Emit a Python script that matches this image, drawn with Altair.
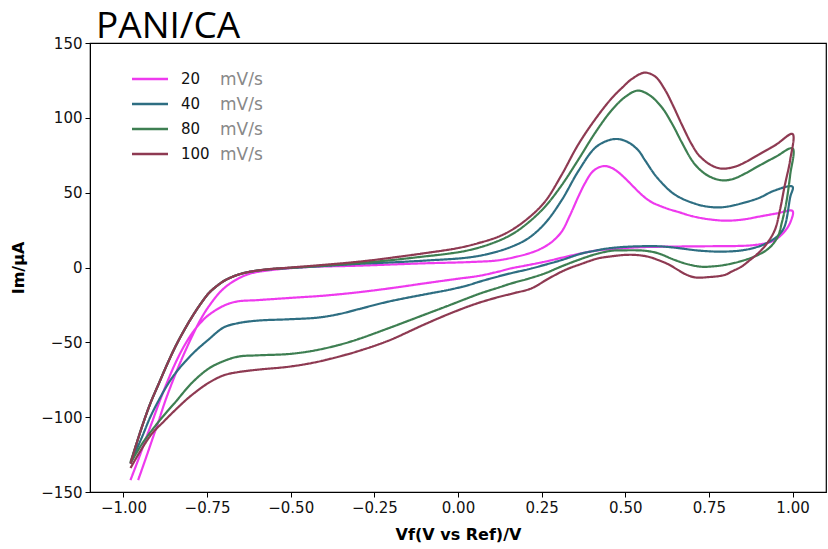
import altair as alt
import pandas as pd

RATES = ["20", "40", "80", "100"]
UNITS = ["20 mV/s", "40 mV/s", "80 mV/s", "100 mV/s"]
COLORS = ["#EE3AEE", "#2E6E82", "#3E7F52", "#8E3A52"]
X_TICKS = [-1.0, -0.75, -0.5, -0.25, 0.0, 0.25, 0.5, 0.75, 1.0]
Y_TICKS = [-150, -100, -50, 0, 50, 100, 150]

# (potential V, current uA) pairs, forward scan then reverse scan
CV_20 = [
    (-0.956, -142), (-0.934, -128), (-0.914, -115), (-0.894, -102), (-0.874, -88.5),
    (-0.835, -66), (-0.795, -46), (-0.77, -35), (-0.745, -26), (-0.705, -15),
    (-0.665, -8.4), (-0.62, -4), (-0.55, -1.5), (-0.45, 0.3), (-0.3, 1.2),
    (-0.1, 2.8), (0.03, 3.6), (0.12, 4.8), (0.18, 7.5), (0.22, 10), (0.25, 12.8),
    (0.28, 17), (0.31, 24), (0.335, 35), (0.36, 47.5), (0.38, 56.5), (0.4, 63.5),
    (0.42, 66.8), (0.44, 67.8), (0.46, 66.5), (0.48, 63.5), (0.5, 59.5), (0.52, 55),
    (0.54, 50.5), (0.56, 46.5), (0.58, 43.5), (0.6, 41.5), (0.63, 39), (0.66, 37),
    (0.7, 34.3), (0.75, 32.2), (0.8, 31.3), (0.85, 32), (0.9, 34), (0.95, 36), (1.0, 37.7),
    (0.993, 30), (0.976, 24), (0.955, 19.5), (0.936, 17.2), (0.91, 15.8),
    (0.877, 14.8), (0.82, 14.3), (0.75, 14.2), (0.65, 14), (0.55, 13.6), (0.5, 13),
    (0.42, 11.5), (0.37, 9.5), (0.31, 6.5), (0.26, 3.9), (0.2, 1.2), (0.16, -0.5),
    (0.12, -2.8), (0.06, -5.7), (0.0, -7.5), (-0.1, -10.6), (-0.2, -13.8),
    (-0.3, -16.6), (-0.4, -18.8), (-0.5, -20.3), (-0.6, -21.8), (-0.66, -22.7),
    (-0.7, -25.5), (-0.745, -31.7), (-0.77, -37), (-0.795, -44), (-0.82, -53),
    (-0.845, -64), (-0.87, -77), (-0.894, -90.7), (-0.914, -103), (-0.934, -115),
    (-0.955, -128), (-0.979, -142),
]

CV_40 = [
    (-0.979, -131), (-0.96, -117), (-0.944, -106), (-0.92, -91), (-0.894, -77.4),
    (-0.87, -65), (-0.845, -53), (-0.82, -42.5), (-0.795, -33), (-0.77, -24.5),
    (-0.745, -17.2), (-0.72, -12.2), (-0.695, -8.4), (-0.66, -5), (-0.626, -3),
    (-0.57, -1.3), (-0.5, -0.3), (-0.4, 1), (-0.3, 2.4), (-0.2, 3.4), (-0.1, 4.6),
    (0.031, 6.7), (0.1, 9.6), (0.16, 13.9), (0.21, 19.5), (0.26, 29.5), (0.31, 45),
    (0.36, 64.5), (0.41, 80), (0.45, 85), (0.479, 85.8), (0.51, 83.5), (0.54, 78),
    (0.558, 72), (0.59, 61.5), (0.618, 54.5), (0.64, 50), (0.668, 46.2), (0.7, 43.3),
    (0.73, 41.3), (0.767, 40.2), (0.8, 40.5), (0.85, 43), (0.9, 46.5), (0.947, 51.5),
    (1.0, 54),
    (0.993, 47), (0.976, 27.3), (0.96, 22), (0.947, 19.5), (0.92, 16), (0.897, 13.9),
    (0.85, 11.5), (0.787, 10.6), (0.72, 11.3), (0.65, 13.2), (0.598, 14.2),
    (0.509, 13.9), (0.45, 12.8), (0.409, 11.2), (0.369, 9.3), (0.31, 5), (0.26, 1.8),
    (0.21, -1.2), (0.17, -3.2), (0.12, -6), (0.061, -9.7), (0.031, -11.8), (-0.029, -15),
    (-0.1, -18), (-0.208, -22.8), (-0.3, -28), (-0.357, -31.2), (-0.42, -33.5),
    (-0.506, -34.6), (-0.6, -35.5), (-0.66, -37.3), (-0.7, -40), (-0.745, -48),
    (-0.795, -58), (-0.845, -70.7), (-0.87, -79), (-0.894, -88.5), (-0.92, -100),
    (-0.944, -113), (-0.979, -130.8),
]

CV_80 = [
    (-0.979, -130), (-0.96, -117), (-0.944, -106), (-0.92, -91), (-0.894, -77.4),
    (-0.87, -65), (-0.845, -53), (-0.82, -42.5), (-0.795, -33), (-0.77, -24.5),
    (-0.745, -17.2), (-0.72, -12.2), (-0.695, -8.4), (-0.66, -5), (-0.626, -3),
    (-0.57, -1.3), (-0.5, -0.2), (-0.4, 1.3), (-0.3, 2.9), (-0.2, 4.9), (-0.108, 7.2),
    (-0.03, 9.2), (0.031, 11.5), (0.1, 16), (0.16, 22), (0.21, 30), (0.26, 40.6),
    (0.31, 55), (0.359, 71.8), (0.41, 90), (0.459, 105), (0.5, 114), (0.537, 118.2),
    (0.57, 115.5), (0.608, 107.4), (0.64, 96), (0.668, 84), (0.698, 72), (0.72, 66),
    (0.75, 61), (0.787, 58.3), (0.82, 59), (0.86, 63), (0.9, 68), (0.95, 74), (1.0, 79.6),
    (0.993, 62), (0.981, 43), (0.968, 30), (0.956, 20.6), (0.93, 13), (0.897, 8.4),
    (0.85, 4.5), (0.797, 1.7), (0.76, 0.7), (0.728, 0.5), (0.69, 2), (0.648, 5),
    (0.598, 9.5), (0.558, 11.2), (0.5, 11.5), (0.459, 11.2), (0.41, 8.8), (0.359, 5),
    (0.31, 0.8), (0.26, -3.9), (0.21, -7.5), (0.16, -10.6), (0.12, -13.5),
    (0.071, -17), (0.031, -20.3), (-0.029, -25.5), (-0.1, -31.5), (-0.208, -40.6),
    (-0.3, -48), (-0.357, -51.8), (-0.43, -55.5), (-0.506, -57.8), (-0.6, -58.7),
    (-0.656, -59.5), (-0.7, -62.5), (-0.745, -67.5), (-0.795, -77), (-0.845, -90),
    (-0.88, -99), (-0.914, -108.5), (-0.945, -118), (-0.979, -130.8),
]

CV_100 = [
    (-0.979, -131), (-0.96, -117), (-0.944, -106), (-0.92, -91), (-0.894, -77.4),
    (-0.87, -65), (-0.845, -53), (-0.82, -42.5), (-0.795, -33), (-0.77, -24.5),
    (-0.745, -17.2), (-0.72, -12.2), (-0.695, -8.4), (-0.66, -5), (-0.626, -3),
    (-0.57, -1.2), (-0.5, 0), (-0.4, 1.8), (-0.3, 3.8), (-0.2, 6.5), (-0.108, 9.3),
    (0.0, 13), (0.061, 16.3), (0.12, 20.5), (0.16, 25), (0.21, 33), (0.26, 44),
    (0.31, 62), (0.359, 82), (0.41, 99), (0.459, 113), (0.49, 120), (0.52, 126),
    (0.558, 130.2), (0.59, 127.5), (0.618, 119), (0.64, 109.5), (0.668, 96), (0.698, 82.5),
    (0.72, 75), (0.747, 69.7), (0.77, 67), (0.792, 66), (0.83, 67.5), (0.86, 70.5),
    (0.897, 75.2), (0.95, 82), (1.0, 89.2),
    (0.993, 72), (0.976, 54), (0.962, 38), (0.947, 25), (0.92, 15), (0.897, 9.5),
    (0.87, 4.5), (0.847, 0.5), (0.82, -2.5), (0.797, -5), (0.75, -6.4), (0.708, -6.6),
    (0.68, -4.5), (0.658, -1.7), (0.63, 2), (0.598, 5), (0.569, 7.2), (0.53, 8.4),
    (0.499, 8.4), (0.46, 7.5), (0.419, 6.1), (0.37, 2.5), (0.32, -1.7), (0.27, -7.5),
    (0.22, -13.9), (0.17, -17), (0.12, -19.8), (0.05, -24.5), (-0.029, -31.2),
    (-0.1, -38), (-0.208, -48.9), (-0.3, -56), (-0.357, -59.6), (-0.43, -63.5),
    (-0.506, -66.3), (-0.6, -68.3), (-0.66, -70), (-0.7, -72), (-0.745, -77),
    (-0.8, -86), (-0.845, -95.2), (-0.88, -103), (-0.914, -110.8), (-0.945, -121),
    (-0.979, -134),
]

rows = []
for rate, unit, curve in zip(RATES, UNITS, [CV_20, CV_40, CV_80, CV_100]):
    for k, (v, c) in enumerate(curve):
        rows.append({"rate": rate, "unit": unit, "v": v, "i": c, "k": k})
df = pd.DataFrame(rows)

FONT = "DejaVu Sans"

chart = alt.Chart(df).mark_line(strokeWidth=2.2, interpolate="catmull-rom").encode(
    x=alt.X("v:Q",
            scale=alt.Scale(domain=[-1.1, 1.1], nice=False, zero=False),
            axis=alt.Axis(title="Vf(V vs Ref)/V", values=X_TICKS, format=".2f")),
    y=alt.Y("i:Q",
            scale=alt.Scale(domain=[-150, 150], nice=False, zero=False),
            axis=alt.Axis(title="Im/μA", values=Y_TICKS)),
    color=alt.Color("rate:N",
                    scale=alt.Scale(domain=RATES, range=COLORS),
                    legend=alt.Legend(
                        title=None, orient="none", legendX=46, legendY=22,
                        symbolType="M-1.44,0H1.44", symbolSize=625,
                        symbolStrokeWidth=2.5, labelOffset=17,
                        labelFont=FONT, labelFontSize=15, labelColor="#111111",
                        rowPadding=3, padding=0)),
    strokeDash=alt.StrokeDash("unit:N",
                              scale=alt.Scale(domain=UNITS, range=[[1, 0]] * 4),
                              legend=alt.Legend(
                                  title=None, orient="none", legendX=105, legendY=24,
                                  symbolOpacity=0, symbolStrokeWidth=0, symbolSize=625,
                                  labelOffset=0, labelExpr="'mV/s'", labelFont=FONT,
                                  labelFontSize=17, labelColor="#888888",
                                  rowPadding=4, padding=0)),
    order=alt.Order("k:Q"),
).properties(
    width=736,
    height=449,
    autosize=alt.AutoSizeParams(type="none"),
    padding={"left": 90, "top": 43, "right": 2, "bottom": 57},
    background="#ffffff",
    title=alt.TitleParams("PANI/CA", anchor="start", frame="group", font="Open Sans",
                          fontSize=37, fontWeight="normal", color="#000000",
                          dx=6, offset=-10),
).configure_view(
    stroke="#000000", strokeWidth=1.2
).configure_axis(
    grid=False, domainColor="#000000", tickColor="#000000", tickSize=5,
    labelFont=FONT, labelFontSize=15, labelColor="#111111", labelPadding=3,
    titleFont=FONT, titleFontSize=16, titleFontWeight="bold", titleColor="#000000",
).configure_axisX(
    titlePadding=11, labelFlush=False
).configure_axisY(
    titlePadding=14
)

chart.save("out.html", embed_options={"renderer": "svg", "actions": False})
